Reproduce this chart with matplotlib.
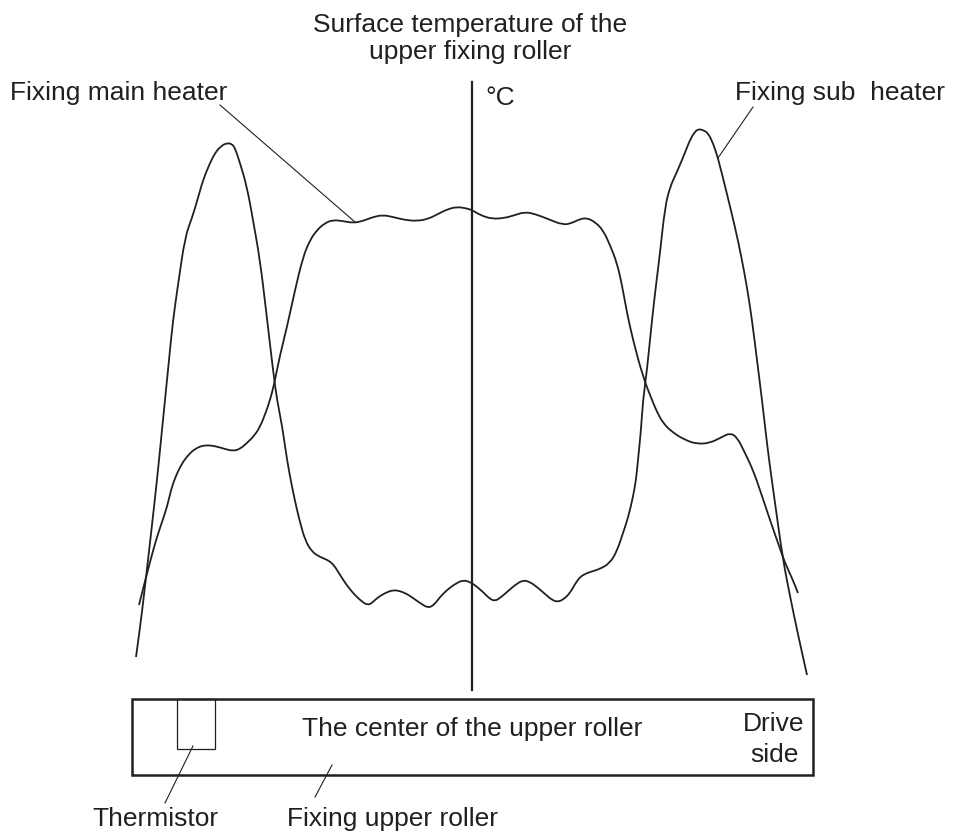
"""
Heater temperature profile along the upper fixing roller.

Two curves (main heater and sub heater) drawn over a sketch of the roller,
with the centre line and callout labels.  Coordinates are in image pixels
(x to the right, y downwards) so the axes is simply the whole canvas.
"""

import matplotlib
matplotlib.use("Agg")
import matplotlib.pyplot as plt
from matplotlib.patches import Rectangle, PathPatch
from matplotlib.path import Path

# ---------------------------------------------------------------- data
# position along the roller (px) and height of the curve (px, downwards)
main_x = [139, 144, 150, 156, 162, 167, 171, 175, 181, 188, 196, 205, 215,
          225, 233, 240, 247, 254, 260, 266, 270, 274, 280, 287, 295, 303,
          310, 317, 325, 333, 343, 353, 363, 373, 383, 393, 405, 417, 428,
          438, 448, 457, 465, 472, 480, 492, 505, 515, 525, 535, 548, 563,
          572, 580, 587, 595, 603, 610, 617, 622, 627, 633, 643, 652, 657,
          663, 672, 685, 697, 710, 722, 730, 737, 745, 753, 760, 770, 778,
          785, 792, 798]
main_y = [605, 585, 562, 540, 522, 507, 490, 478, 465, 455, 448, 445, 446,
          449, 451, 449, 443, 436, 427, 412, 400, 385, 355, 327, 290, 257,
          240, 230, 223, 220, 221, 223, 221, 217, 215, 217, 220, 221, 219,
          214, 209, 207, 208, 210, 215, 219, 218, 215, 212, 214, 219, 225,
          223, 219, 218, 222, 230, 245, 263, 285, 313, 340, 377, 400, 412,
          423, 432, 440, 444, 443, 437, 433, 437, 453, 470, 490, 520, 543,
          563, 578, 593]

sub_x = [136, 140, 144, 148, 152, 157, 161, 165, 169, 173, 178, 185, 192,
         198, 203, 210, 215, 221, 227, 232, 235, 240, 247, 253, 260, 266,
         273, 277, 282, 287, 292, 297, 300, 305, 312, 320, 332, 340, 350,
         362, 368, 372, 377, 385, 393, 400, 407, 413, 420, 428, 434, 440,
         447, 455, 463, 470, 476, 483, 490, 495, 500, 507, 515, 523, 530,
         537, 545, 552, 558, 564, 570, 575, 580, 585, 590, 600, 610, 617,
         623, 628, 633, 636, 638, 641, 643, 647, 652, 656, 660, 665, 670,
         676, 682, 686, 690, 694, 698, 703, 708, 713, 718, 726, 735, 741,
         747, 752, 757, 762, 766, 770, 776, 783, 790, 797, 807]
sub_y = [657, 628, 595, 560, 525, 480, 440, 400, 360, 320, 285, 237, 218,
         198, 180, 163, 153, 146, 143, 144, 148, 163, 187, 220, 260, 310,
         370, 400, 425, 460, 487, 510, 522, 540, 552, 557, 562, 575, 590,
         602, 605, 603, 598, 593, 590, 591, 594, 598, 603, 608, 605, 597,
         590, 584, 580, 582, 586, 592, 599, 601, 598, 592, 585, 580, 582,
         587, 594, 600, 602, 599, 593, 584, 577, 574, 572, 569, 563, 551,
         533, 518, 497, 480, 460, 430, 400, 370, 320, 285, 253, 207, 187,
         174, 160, 150, 140, 133, 129, 130, 133, 143, 158, 190, 227, 255,
         287, 320, 360, 400, 435, 467, 510, 560, 596, 630, 675]

# ---------------------------------------------------------------- layout
W, H = 955, 832
INK = "#231f20"
FONT = "Liberation Sans"
FS = 19

center_x = 472
center_top, center_bottom = 82, 690

roller_box = (132, 699, 681, 76)        # x, y, width, height
thermistor_box = (177, 699, 38, 50)

leaders = [
    ((220, 105), (355, 222)),           # main heater
    ((753, 107), (718, 158)),           # sub heater
    ((193, 746), (165, 803)),           # thermistor
    ((332, 765), (315, 797)),           # upper roller
]

labels = [
    ("Surface temperature of the", 470, 32, "center"),
    ("upper fixing roller", 470, 59, "center"),
    ("Fixing main heater", 10, 100, "left"),
    ("Fixing sub  heater", 735, 100, "left"),
    ("\u00b0C", 485, 105, "left"),
    ("The center of the upper roller", 302, 736, "left"),
    ("Drive", 774, 731, "center"),
    ("side", 774, 762, "center"),
    ("Thermistor", 155, 826, "center"),
    ("Fixing upper roller", 392, 826, "center"),
]


def smooth_path(xs, ys):
    """Quadratic Bezier through midpoints, read points act as controls."""
    pts = list(zip(xs, ys))
    verts = [pts[0]]
    codes = [Path.MOVETO]
    for i in range(1, len(pts) - 1):
        mid = ((pts[i][0] + pts[i + 1][0]) / 2, (pts[i][1] + pts[i + 1][1]) / 2)
        verts += [pts[i], mid]
        codes += [Path.CURVE3, Path.CURVE3]
    verts.append(pts[-1])
    codes.append(Path.LINETO)
    return Path(verts, codes)


fig = plt.figure(figsize=(W / 100, H / 100), dpi=100)
ax = fig.add_axes([0, 0, 1, 1])
ax.set_xlim(0, W)
ax.set_ylim(H, 0)
ax.axis("off")

for xs, ys in [(main_x, main_y), (sub_x, sub_y)]:
    ax.add_patch(PathPatch(smooth_path(xs, ys), fill=False, ec=INK, lw=1.3,
                           joinstyle="round", capstyle="butt"))

ax.plot([center_x, center_x], [center_top, center_bottom], color=INK, lw=1.6)

bx, by, bw, bh = roller_box
ax.add_patch(Rectangle((bx, by), bw, bh, fill=False, ec=INK, lw=1.8))
tx, ty, tw, th = thermistor_box
ax.add_patch(Rectangle((tx, ty), tw, th, fill=False, ec=INK, lw=0.9))

for (x0, y0), (x1, y1) in leaders:
    ax.plot([x0, x1], [y0, y1], color=INK, lw=0.8)

for txt, x, y, ha in labels:
    ax.text(x, y, txt, ha=ha, va="baseline", fontsize=FS,
            family=FONT, color=INK)

fig.savefig("out.png", dpi=100, facecolor="white")
